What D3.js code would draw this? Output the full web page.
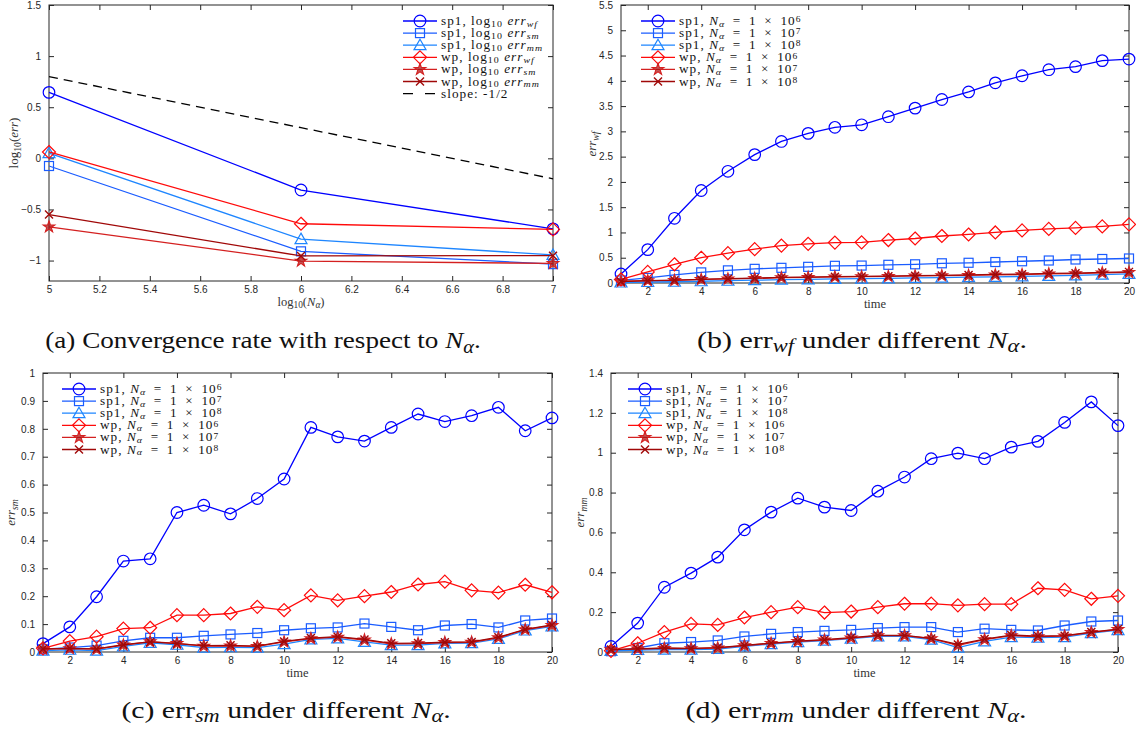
<!DOCTYPE html>
<html>
<head>
<meta charset="utf-8">
<script src="https://cdn.jsdelivr.net/npm/d3@7"></script>
<style>
  html, body { margin: 0; padding: 0; background: #fff; }
  svg { display: block; }
</style>
</head>
<body>
<svg id="fig" width="1136" height="729"></svg>
<script>
// ---- data ----
const logN = [5, 6, 7];
const convSp1Wf = [0.645, -0.31, -0.69];
const convSp1Sm = [-0.075, -0.91, -1.035];
const convSp1Mm = [0.05, -0.79, -0.945];
const convWpWf = [0.062, -0.64, -0.695];
const convWpSm = [-0.67, -1.005, -1.028];
const convWpMm = [-0.55, -0.955, -0.952];
const slopeRef = [0.8, 0.3, -0.2];

const time = d3.range(1, 21);

// err_wf
const wfSp1N6 = [0.18, 0.66, 1.28, 1.83, 2.21, 2.54, 2.80, 2.96, 3.08, 3.13, 3.29, 3.46, 3.63, 3.78, 3.96, 4.10, 4.22, 4.28, 4.40, 4.43];
const wfSp1N7 = [0.05, 0.10, 0.16, 0.21, 0.25, 0.28, 0.30, 0.32, 0.34, 0.345, 0.36, 0.37, 0.39, 0.40, 0.415, 0.43, 0.445, 0.465, 0.475, 0.485];
const wfSp1N8 = [0.01, 0.02, 0.025, 0.035, 0.045, 0.055, 0.065, 0.07, 0.08, 0.085, 0.09, 0.10, 0.105, 0.115, 0.12, 0.13, 0.14, 0.15, 0.165, 0.18];
const wfWpN6 = [0.07, 0.22, 0.37, 0.50, 0.59, 0.67, 0.74, 0.775, 0.80, 0.805, 0.85, 0.88, 0.93, 0.96, 1.00, 1.04, 1.07, 1.09, 1.12, 1.16];
const wfWpN7 = [0.03, 0.045, 0.05, 0.07, 0.08, 0.09, 0.105, 0.11, 0.12, 0.125, 0.13, 0.14, 0.145, 0.15, 0.16, 0.165, 0.18, 0.185, 0.20, 0.21];
const wfWpN8 = [0.03, 0.045, 0.055, 0.07, 0.085, 0.095, 0.11, 0.115, 0.125, 0.13, 0.135, 0.145, 0.15, 0.16, 0.17, 0.175, 0.19, 0.195, 0.21, 0.22];

// err_sm
const smSp1N6 = [0.03, 0.09, 0.198, 0.326, 0.334, 0.50, 0.526, 0.495, 0.55, 0.62, 0.805, 0.771, 0.756, 0.805, 0.853, 0.826, 0.847, 0.877, 0.793, 0.839];
const smSp1N7 = [0.01, 0.016, 0.023, 0.04, 0.051, 0.051, 0.058, 0.063, 0.068, 0.078, 0.085, 0.088, 0.102, 0.09, 0.078, 0.095, 0.10, 0.088, 0.113, 0.12];
const smSp1N8 = [0.005, 0.008, 0.005, 0.02, 0.033, 0.026, 0.016, 0.017, 0.016, 0.028, 0.045, 0.049, 0.036, 0.025, 0.025, 0.031, 0.032, 0.047, 0.077, 0.092];
const smWpN6 = [0.013, 0.039, 0.055, 0.084, 0.087, 0.132, 0.132, 0.138, 0.162, 0.15, 0.203, 0.185, 0.2, 0.215, 0.242, 0.252, 0.221, 0.213, 0.241, 0.214];
const smWpN7 = [0.01, 0.012, 0.01, 0.025, 0.037, 0.031, 0.021, 0.022, 0.02, 0.036, 0.048, 0.053, 0.043, 0.029, 0.03, 0.034, 0.035, 0.051, 0.08, 0.095];
const smWpN8 = [0.011, 0.013, 0.011, 0.026, 0.036, 0.03, 0.023, 0.024, 0.021, 0.038, 0.05, 0.055, 0.045, 0.031, 0.032, 0.035, 0.036, 0.053, 0.081, 0.097];

// err_mm
const mmSp1N6 = [0.028, 0.145, 0.325, 0.396, 0.476, 0.613, 0.702, 0.772, 0.727, 0.71, 0.807, 0.878, 0.97, 0.998, 0.97, 1.028, 1.057, 1.152, 1.255, 1.136];
const mmSp1N7 = [0.004, 0.02, 0.044, 0.05, 0.058, 0.078, 0.091, 0.10, 0.106, 0.111, 0.12, 0.125, 0.125, 0.10, 0.117, 0.111, 0.108, 0.133, 0.153, 0.158];
const mmSp1N8 = [0.005, 0.01, 0.012, 0.012, 0.015, 0.028, 0.04, 0.05, 0.057, 0.067, 0.078, 0.078, 0.062, 0.022, 0.053, 0.075, 0.072, 0.075, 0.095, 0.11];
const mmWpN6 = [0.006, 0.044, 0.10, 0.141, 0.136, 0.173, 0.20, 0.225, 0.198, 0.203, 0.225, 0.242, 0.243, 0.234, 0.24, 0.24, 0.32, 0.312, 0.267, 0.282];
const mmWpN7 = [0.012, 0.015, 0.018, 0.017, 0.02, 0.032, 0.043, 0.053, 0.06, 0.07, 0.082, 0.082, 0.067, 0.033, 0.062, 0.082, 0.077, 0.08, 0.098, 0.113];
const mmWpN8 = [0.012, 0.016, 0.02, 0.018, 0.022, 0.033, 0.045, 0.055, 0.062, 0.072, 0.083, 0.083, 0.068, 0.038, 0.065, 0.085, 0.08, 0.082, 0.1, 0.115];

const tickA_x = d3.range(5, 7.0001, 0.2);
const tickA_y = [-1, -0.5, 0, 0.5, 1, 1.5];
const tickTime = d3.range(2, 21, 2);
const tickB_y = d3.range(0, 5.5001, 0.5);
const tickC_y = d3.range(0, 1.0001, 0.1);
const tickD_y = d3.range(0, 1.4001, 0.2);

// ---- styles ----
const styles = [
  { color: "#0000ff", symbol: "circle" },
  { color: "#1a5cff", symbol: "square" },
  { color: "#1e86ff", symbol: "triangle" },
  { color: "#ff0a0a", symbol: "diamond" },
  { color: "#d42020", symbol: "star" },
  { color: "#a00808", symbol: "cross" }
];

const svg = d3.select("#fig");
const SERIF = "'Liberation Serif', 'DejaVu Serif', serif";
const SANS = "'Liberation Sans', Arial, sans-serif";
const EN = "\u2002";

function drawMarker(g, kind, color, x, y) {
  const s = g.append("g").attr("transform", `translate(${x},${y})`);
  if (kind === "circle") {
    s.append("circle").attr("r", 5.8).attr("fill", "none").attr("stroke", color).attr("stroke-width", 1.2);
  } else if (kind === "square") {
    s.append("rect").attr("x", -4.5).attr("y", -4.5).attr("width", 9).attr("height", 9)
      .attr("fill", "none").attr("stroke", color).attr("stroke-width", 1.2);
  } else if (kind === "triangle") {
    s.append("path").attr("d", "M0,-6L6,4.5L-6,4.5Z").attr("fill", "none").attr("stroke", color).attr("stroke-width", 1.2);
  } else if (kind === "diamond") {
    s.append("path").attr("d", "M0,-6.5L6.5,0L0,6.5L-6.5,0Z").attr("fill", "none").attr("stroke", color).attr("stroke-width", 1.2);
  } else if (kind === "star") {
    s.append("path").attr("d", d3.symbol(d3.symbolStar, 42)()).attr("fill", "#a81010")
      .attr("fill-opacity", 0.7).attr("stroke", color).attr("stroke-width", 1.1);
  } else if (kind === "cross") {
    s.append("path").attr("d", "M-4,-4L4,4M-4,4L4,-4").attr("stroke", color).attr("stroke-width", 1.4);
  }
}

function legendText(g, x, y) {
  return g.append("text").attr("transform", `translate(${x},${y}) scale(1.15,1)`)
    .style("font-family", SERIF).style("font-size", "11.5px").style("letter-spacing", "0.9px")
    .attr("fill", "#111");
}

function panel(cfg) {
  const x = d3.scaleLinear().domain(cfg.xDomain).range([cfg.left, cfg.right]);
  const y = d3.scaleLinear().domain(cfg.yDomain).range([cfg.bottom, cfg.top]);
  const g = svg.append("g");
  const axisColor = "#262626";

  // box
  g.append("rect").attr("x", cfg.left).attr("y", cfg.top)
    .attr("width", cfg.right - cfg.left).attr("height", cfg.bottom - cfg.top)
    .attr("fill", "none").attr("stroke", axisColor).attr("stroke-width", 1);

  // axes with inward ticks on all four sides
  const fmt = d => d3.format("~g")(+d.toFixed(2));
  const xb = d3.axisBottom(x).tickValues(cfg.xTicks).tickSizeInner(-5).tickSizeOuter(0).tickPadding(5).tickFormat(fmt);
  const xt = d3.axisTop(x).tickValues(cfg.xTicks).tickSizeInner(-5).tickSizeOuter(0).tickFormat("");
  const yl = d3.axisLeft(y).tickValues(cfg.yTicks).tickSizeInner(-5).tickSizeOuter(0).tickPadding(8).tickFormat(fmt);
  const yr = d3.axisRight(y).tickValues(cfg.yTicks).tickSizeInner(-5).tickSizeOuter(0).tickFormat("");
  const axes = [
    g.append("g").attr("transform", `translate(0,${cfg.bottom})`).call(xb),
    g.append("g").attr("transform", `translate(0,${cfg.top})`).call(xt),
    g.append("g").attr("transform", `translate(${cfg.left},0)`).call(yl),
    g.append("g").attr("transform", `translate(${cfg.right},0)`).call(yr)
  ];
  axes.forEach(a => {
    a.select(".domain").remove();
    a.selectAll("line").attr("stroke", axisColor);
    a.selectAll("text").attr("fill", axisColor).style("font-family", SANS).style("font-size", "10px");
  });

  // reference slope line
  if (cfg.ref) {
    g.append("path").datum(cfg.ref)
      .attr("d", d3.line().x((d, i) => x(cfg.xs[i])).y(d => y(d)))
      .attr("fill", "none").attr("stroke", "#000").attr("stroke-width", 1.3).attr("stroke-dasharray", "9,6");
  }

  // series
  cfg.series.forEach((vals, k) => {
    const st = styles[k];
    g.append("path").datum(vals)
      .attr("d", d3.line().x((d, i) => x(cfg.xs[i])).y(d => y(d)))
      .attr("fill", "none").attr("stroke", st.color).attr("stroke-width", 1.3);
    vals.forEach((v, i) => drawMarker(g, st.symbol, st.color, x(cfg.xs[i]), y(v)));
  });

  // legend
  const L = cfg.legend;
  const rowH = 12.1;
  cfg.labels.forEach((lab, k) => {
    const yy = L.y + k * rowH;
    const st = styles[k];
    g.append("line").attr("x1", L.x).attr("x2", L.x + 34).attr("y1", yy).attr("y2", yy)
      .attr("stroke", st.color).attr("stroke-width", 1.3);
    drawMarker(g, st.symbol, st.color, L.x + 17, yy);
    lab(legendText(g, L.x + 38, yy + 4));
  });
  if (cfg.ref) {
    const yy = L.y + cfg.labels.length * rowH;
    g.append("line").attr("x1", L.x).attr("x2", L.x + 34).attr("y1", yy).attr("y2", yy)
      .attr("stroke", "#000").attr("stroke-width", 1.3).attr("stroke-dasharray", "10,12");
    legendText(g, L.x + 38, yy + 4).text("slope:  -1/2");
  }

  // axis titles
  const tx = g.append("text").attr("x", (cfg.left + cfg.right) / 2).attr("y", cfg.bottom + 25)
    .attr("text-anchor", "middle").style("font-family", SERIF).style("font-size", "12.5px").attr("fill", "#333");
  cfg.xTitle(tx);
  const ty = g.append("text").attr("transform", `translate(${cfg.yTitleX},${(cfg.top + cfg.bottom) / 2}) rotate(-90)`)
    .attr("text-anchor", "middle").style("font-family", SERIF).style("font-size", "13px").attr("fill", "#333");
  cfg.yTitle(ty);

  // caption
  const cap = svg.append("text").attr("transform", `translate(${cfg.capX},${cfg.capY}) scale(${cfg.capScale},1)`)
    .attr("text-anchor", "middle")
    .style("font-family", SERIF).style("font-size", "24px").attr("fill", "#111");
  cfg.caption(cap);
}

// text helpers
function sub(t, s, italic) {
  t.append("tspan").attr("baseline-shift", "-25%").style("font-size", "0.75em")
    .style("font-style", italic ? "italic" : "normal").text(s);
}
function sup(t, s) {
  t.append("tspan").attr("baseline-shift", "38%").style("font-size", "0.72em").text(s);
}
function it(t, s) { t.append("tspan").style("font-style", "italic").text(s); }
function plain(t, s) { t.append("tspan").text(s); }

function logLabel(name, which) {
  return t => { plain(t, name + ", log"); sub(t, "10"); plain(t, " "); it(t, "err"); sub(t, which, true); };
}
function nLabel(name, p) {
  return t => { plain(t, name + ", "); it(t, "N"); sub(t, "α", true); plain(t, `${EN}=${EN}1${EN}×${EN}10`); sup(t, p); };
}
const nLabels = [nLabel("sp1", "6"), nLabel("sp1", "7"), nLabel("sp1", "8"),
                 nLabel("wp", "6"), nLabel("wp", "7"), nLabel("wp", "8")];
function capErr(letter, which) {
  return t => { plain(t, `(${letter}) err`); sub(t, which, true); plain(t, " under different "); it(t, "N"); sub(t, "α", true); plain(t, "."); };
}
function errTitle(which) { return t => { it(t, "err"); sub(t, which, true); }; }
const timeTitle = t => plain(t, "time");

// (a) convergence in N_alpha
panel({
  left: 49, right: 553, top: 5, bottom: 281,
  xDomain: [5, 7], yDomain: [-1.2, 1.5], xTicks: tickA_x, yTicks: tickA_y,
  xs: logN,
  series: [convSp1Wf, convSp1Sm, convSp1Mm, convWpWf, convWpSm, convWpMm],
  ref: slopeRef,
  labels: [logLabel("sp1", "wf"), logLabel("sp1", "sm"), logLabel("sp1", "mm"),
           logLabel("wp", "wf"), logLabel("wp", "sm"), logLabel("wp", "mm")],
  legend: { x: 403, y: 21 },
  xTitle: t => { plain(t, "log"); sub(t, "10"); plain(t, "("); it(t, "N"); sub(t, "α", true); plain(t, ")"); },
  yTitle: t => { plain(t, "log"); sub(t, "10"); plain(t, "("); it(t, "err"); plain(t, ")"); },
  yTitleX: 18,
  caption: t => { plain(t, "(a) Convergence rate with respect to "); it(t, "N"); sub(t, "α", true); plain(t, "."); },
  capX: 263, capY: 348, capScale: 1.13
});

// (b) err_wf over time
panel({
  left: 621, right: 1129, top: 5, bottom: 283,
  xDomain: [1, 20], yDomain: [0, 5.5], xTicks: tickTime, yTicks: tickB_y,
  xs: time,
  series: [wfSp1N6, wfSp1N7, wfSp1N8, wfWpN6, wfWpN7, wfWpN8],
  labels: nLabels,
  legend: { x: 641, y: 21 },
  xTitle: timeTitle,
  yTitle: errTitle("wf"),
  yTitleX: 596,
  caption: capErr("b", "wf"),
  capX: 862, capY: 348, capScale: 1.25
});

// (c) err_sm over time
panel({
  left: 43, right: 552, top: 373, bottom: 652,
  xDomain: [1, 20], yDomain: [0, 1], xTicks: tickTime, yTicks: tickC_y,
  xs: time,
  series: [smSp1N6, smSp1N7, smSp1N8, smWpN6, smWpN7, smWpN8],
  labels: nLabels,
  legend: { x: 62, y: 389 },
  xTitle: timeTitle,
  yTitle: errTitle("sm"),
  yTitleX: 15,
  caption: capErr("c", "sm"),
  capX: 286, capY: 718, capScale: 1.24
});

// (d) err_mm over time
panel({
  left: 611, right: 1118, top: 373, bottom: 652,
  xDomain: [1, 20], yDomain: [0, 1.4], xTicks: tickTime, yTicks: tickD_y,
  xs: time,
  series: [mmSp1N6, mmSp1N7, mmSp1N8, mmWpN6, mmWpN7, mmWpN8],
  labels: nLabels,
  legend: { x: 628, y: 389 },
  xTitle: timeTitle,
  yTitle: errTitle("mm"),
  yTitleX: 584,
  caption: capErr("d", "mm"),
  capX: 856, capY: 718, capScale: 1.25
});
</script>
</body>
</html>
